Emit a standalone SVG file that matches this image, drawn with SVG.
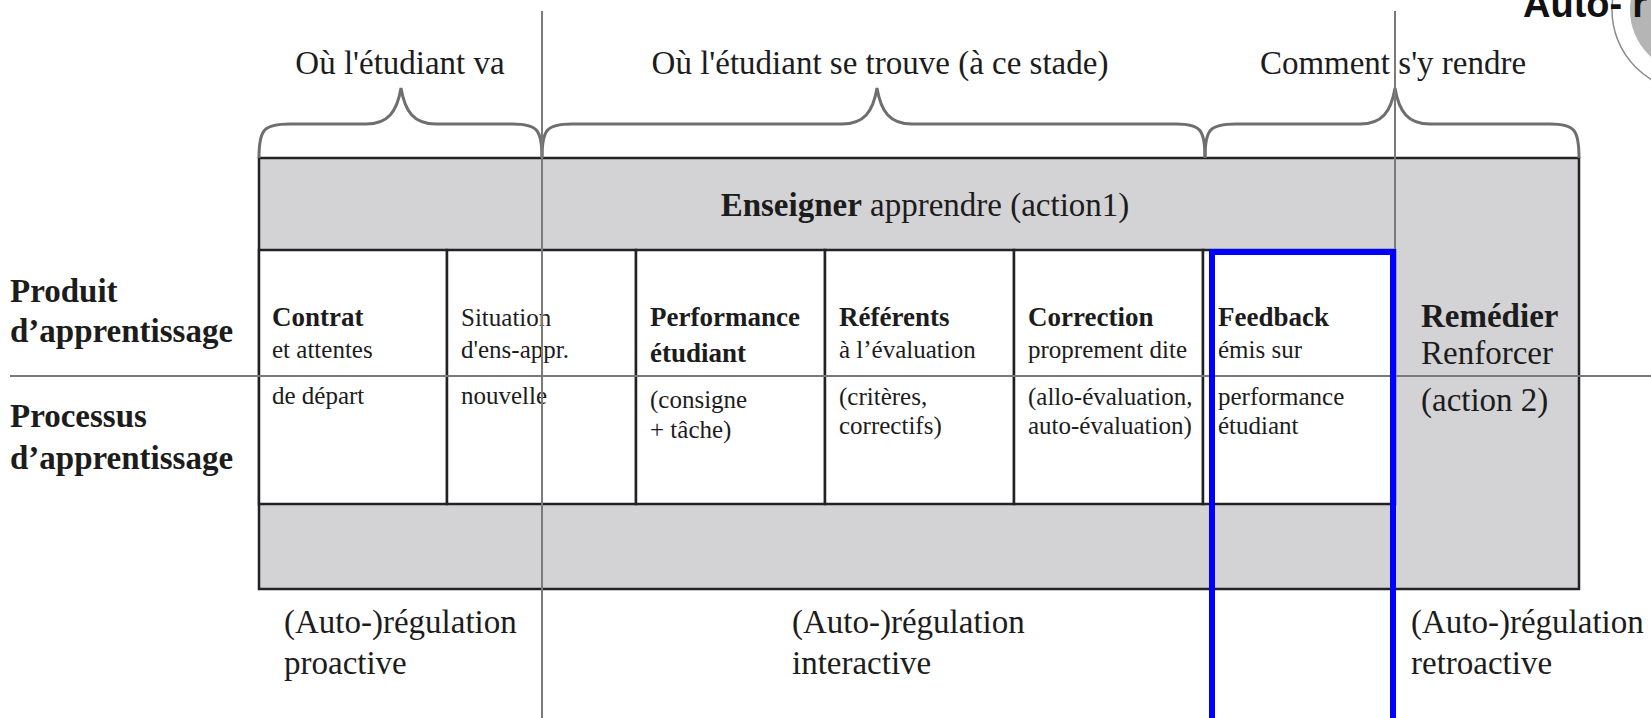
<svg xmlns="http://www.w3.org/2000/svg" width="1651" height="718" viewBox="0 0 1651 718">
<style>
.t{font-family:"Liberation Serif","Times New Roman",serif;fill:#1c1c1c}
.h{font-size:33px}
.b{font-weight:bold}
.c{font-size:25px}
.cb{font-size:27px;font-weight:bold}
.guide{stroke:#7a7a7a;stroke-width:2;fill:none}
.brace{stroke:#6e6e6e;stroke-width:3;fill:none}
.cell{fill:#fff;stroke:#222;stroke-width:2.5}
.band{fill:#d3d2d5;stroke:#222;stroke-width:2.5}
</style>
<rect width="1651" height="718" fill="#fff"/>
<g id="corner">
<circle cx="1693" cy="10" r="81" fill="none" stroke="#8a8a8a" stroke-width="1.5"/>
<circle cx="1693" cy="10" r="63" fill="#b5b5b5"/>
<text x="1523" y="17" font-family="Liberation Sans,Arial,sans-serif" font-weight="bold" font-size="38" fill="#111">Auto-<tspan dx="10">r</tspan></text>
</g>
<g id="frame">
<rect class="band" x="259" y="158" width="1320" height="431"/>
</g>
<g id="band-top">
<text class="t h" x="925" y="216" text-anchor="middle"><tspan class="b">Enseigner</tspan> apprendre (action1)</text>
</g>
<g id="cell-contrat">
<rect class="cell" x="259" y="250" width="188" height="254"/>
<text class="t cb" x="272" y="326">Contrat</text>
<text class="t c" x="272" y="358">et attentes</text>
<text class="t c" x="272" y="404">de départ</text>
</g>
<g id="cell-situation">
<rect class="cell" x="447" y="250" width="189" height="254"/>
<text class="t c" x="461" y="326">Situation</text>
<text class="t c" x="461" y="358">d'ens-appr.</text>
<text class="t c" x="461" y="404">nouvelle</text>
</g>
<g id="cell-performance">
<rect class="cell" x="636" y="250" width="189" height="254"/>
<text class="t cb" x="650" y="326">Performance</text>
<text class="t cb" x="650" y="362">étudiant</text>
<text class="t c" x="650" y="408">(consigne</text>
<text class="t c" x="650" y="438">+ tâche)</text>
</g>
<g id="cell-referents">
<rect class="cell" x="825" y="250" width="189" height="254"/>
<text class="t cb" x="839" y="326">Référents</text>
<text class="t c" x="839" y="358">à l’évaluation</text>
<text class="t c" x="839" y="405">(critères,</text>
<text class="t c" x="839" y="434">correctifs)</text>
</g>
<g id="cell-correction">
<rect class="cell" x="1014" y="250" width="189" height="254"/>
<text class="t cb" x="1028" y="326">Correction</text>
<text class="t c" x="1028" y="358">proprement dite</text>
<text class="t c" x="1028" y="405">(allo-évaluation,</text>
<text class="t c" x="1028" y="434">auto-évaluation)</text>
</g>
<g id="cell-feedback">
<rect class="cell" x="1203" y="250" width="192" height="254"/>
<text class="t cb" x="1218" y="326">Feedback</text>
<text class="t c" x="1218" y="358">émis sur</text>
<text class="t c" x="1218" y="405">performance</text>
<text class="t c" x="1218" y="434">étudiant</text>
</g>
<g id="remedier">
<text class="t h b" x="1421" y="327">Remédier</text>
<text class="t h" x="1421" y="364">Renforcer</text>
<text class="t h" x="1421" y="411">(action 2)</text>
</g>
<g id="row-labels">
<text class="t h b" x="10" y="302">Produit</text>
<text class="t h b" x="10" y="342">d’apprentissage</text>
<text class="t h b" x="10" y="427">Processus</text>
<text class="t h b" x="10" y="469">d’apprentissage</text>
</g>
<g id="top-labels">
<text class="t h" x="400" y="74" text-anchor="middle">Où l'étudiant va</text>
<text class="t h" x="880" y="74" text-anchor="middle">Où l'étudiant se trouve (à ce stade)</text>
<text class="t h" x="1393" y="74" text-anchor="middle">Comment s'y rendre</text>
</g>
<g id="bottom-labels">
<text class="t h" x="284" y="633">(Auto-)régulation</text>
<text class="t h" x="284" y="674">proactive</text>
<text class="t h" x="792" y="633">(Auto-)régulation</text>
<text class="t h" x="792" y="674">interactive</text>
<text class="t h" x="1411" y="633">(Auto-)régulation</text>
<text class="t h" x="1411" y="674">retroactive</text>
</g>
<g id="connectors">
<path class="brace" d="M259,158 C259,130 263,124 290,124 L366,124 C388,124 397,112 401,88 C405,112 414,124 436,124 L512,124 C538,124 542,130 542,158"/>
<path class="brace" d="M542,158 C542,130 546,124 572,124 L842,124 C864,124 873,112 877,88 C881,112 890,124 912,124 L1176,124 C1201,124 1205,130 1205,158"/>
<path class="brace" d="M1205,158 C1205,130 1209,124 1236,124 L1360,124 C1382,124 1391,112 1395,88 C1399,112 1408,124 1430,124 L1550,124 C1575,124 1579,130 1579,158"/>
<line class="guide" x1="10" y1="376" x2="1651" y2="376" stroke-width="3"/>
<line class="guide" x1="542" y1="11" x2="542" y2="718"/>
<line class="guide" x1="1395" y1="11" x2="1395" y2="589"/>
<path d="M1212,718 L1212,252 L1393,252 L1393,718" fill="none" stroke="#0000ff" stroke-width="6"/>
</g>
</svg>
